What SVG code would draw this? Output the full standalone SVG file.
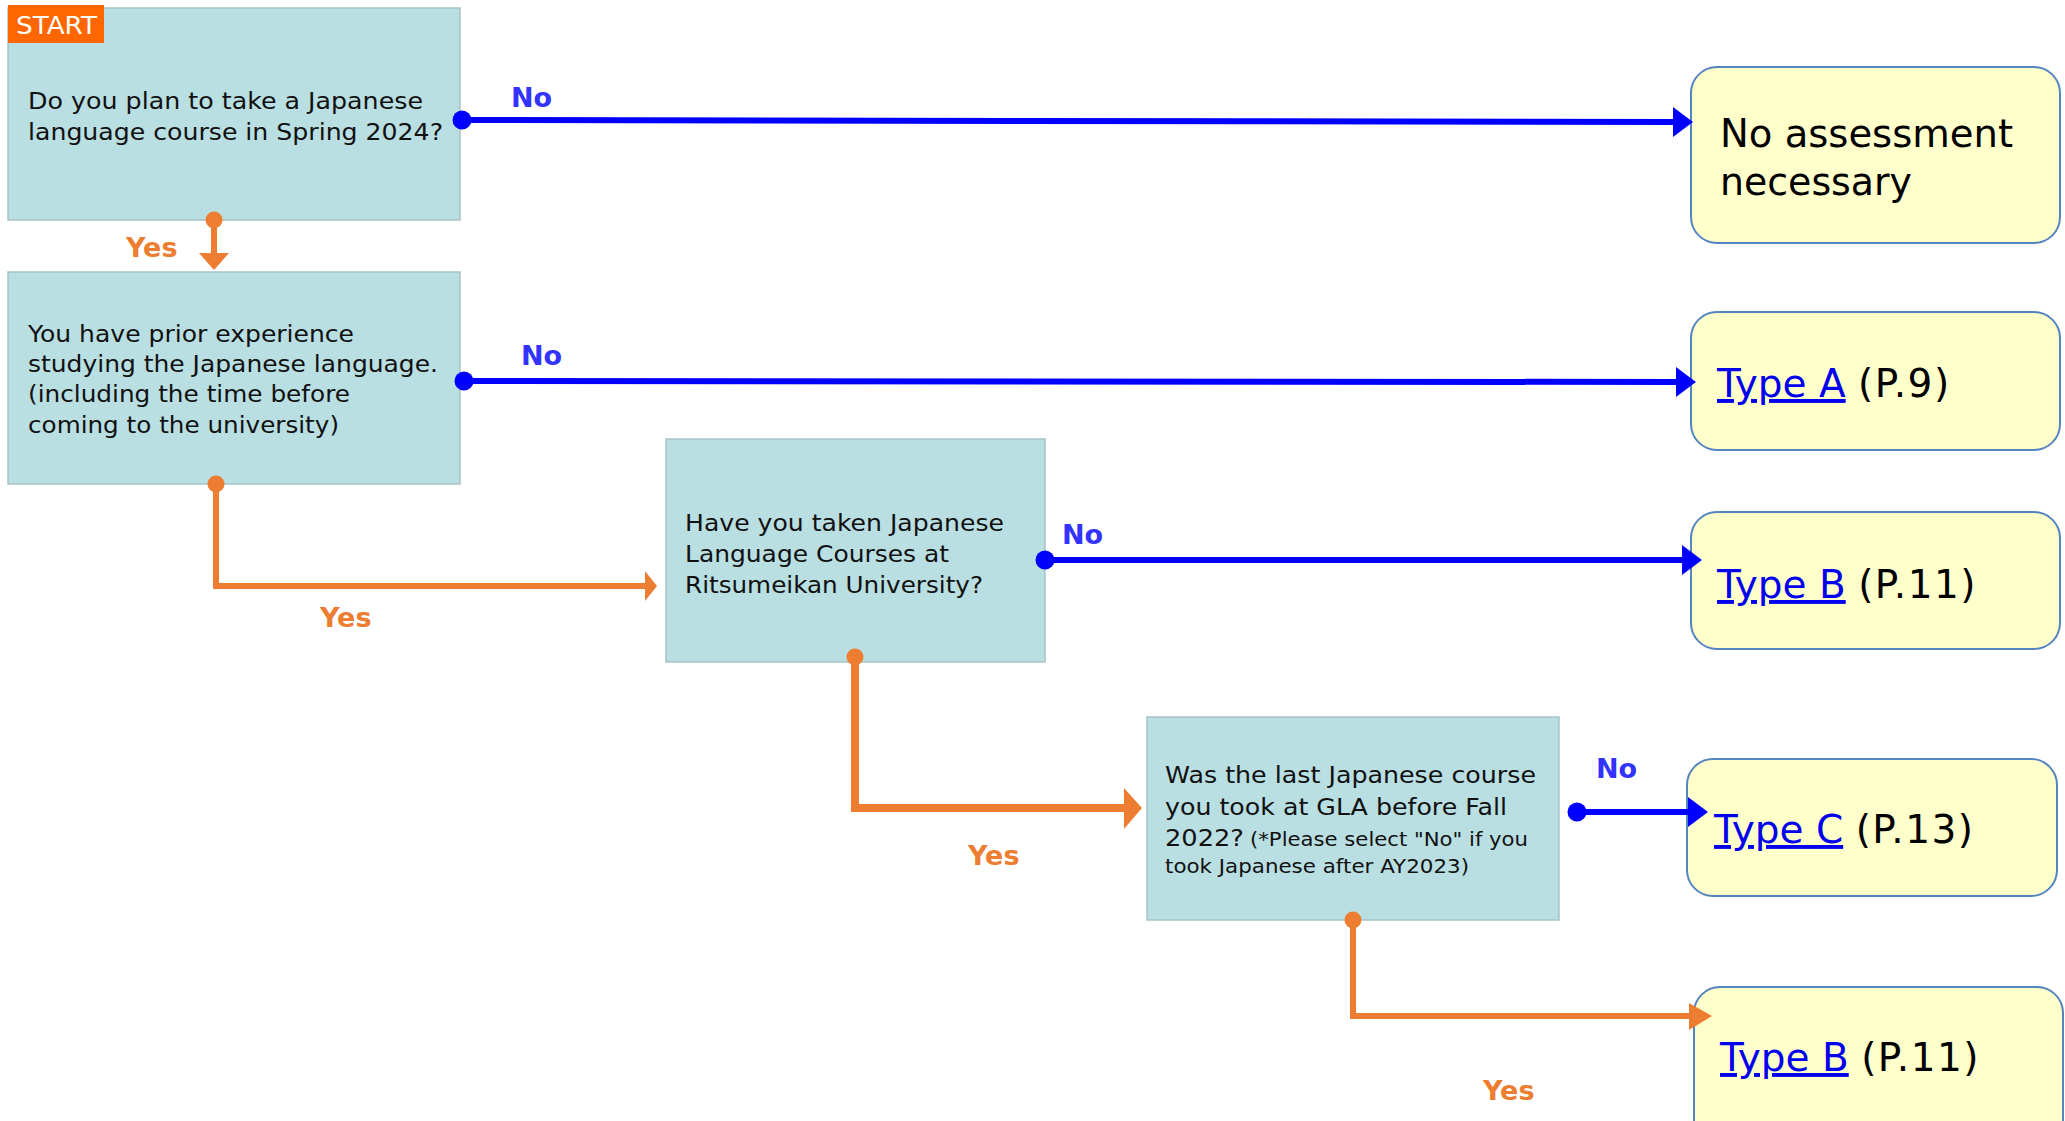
<svg xmlns="http://www.w3.org/2000/svg" width="2065" height="1121" viewBox="0 0 2065 1121">
<style>
.q{fill:#B9DFE3;stroke:#A8C3C7;stroke-width:1.5}
.t{fill:#FFFFCC;stroke:#5585C0;stroke-width:2}
.bt{font-family:"DejaVu Sans","Noto Sans",sans-serif;font-size:23px;fill:#111}
.sm{font-size:19.5px}
.tt{font-family:"DejaVu Sans","Noto Sans",sans-serif;font-size:39px;fill:#000}
.pg{letter-spacing:1.5px}
.lk{fill:#0000EE;text-decoration:underline}
.no{font-family:"DejaVu Sans","Noto Sans",sans-serif;font-size:27px;font-weight:bold;fill:#3333FF}
.yes{font-family:"DejaVu Sans","Noto Sans",sans-serif;font-size:27px;font-weight:bold;fill:#ED7D31}
.bl{stroke:#0000FF;stroke-width:6;fill:none}
.or{stroke:#ED7D31;stroke-width:6;fill:none}
.oh{fill:#ED7D31}
</style>
<defs>
<marker id="bdot" markerUnits="userSpaceOnUse" markerWidth="20" markerHeight="20" refX="10" refY="10" viewBox="0 0 20 20"><circle cx="10" cy="10" r="9.5" fill="#0000FF"/></marker>
<marker id="odot" markerUnits="userSpaceOnUse" markerWidth="18" markerHeight="18" refX="9" refY="9" viewBox="0 0 18 18"><circle cx="9" cy="9" r="8.5" fill="#ED7D31"/></marker>
<marker id="barr" markerUnits="userSpaceOnUse" markerWidth="20" markerHeight="30" refX="0" refY="15" viewBox="0 0 20 30" orient="auto"><path d="M0,0 L20,15 L0,30 Z" fill="#0000FF"/></marker>
</defs>

<g id="q1">
  <rect class="q" x="8" y="8" width="452" height="212"/>
  <rect x="8" y="5" width="96" height="38" fill="#FF6600"/>
  <text x="16" y="34" font-family="DejaVu Sans, Noto Sans, sans-serif" font-size="24" fill="#FFFFFF" textLength="81" lengthAdjust="spacingAndGlyphs">START</text>
  <text class="bt" x="28" y="109" textLength="395" lengthAdjust="spacingAndGlyphs">Do you plan to take a Japanese</text>
  <text class="bt" x="28" y="140" textLength="415" lengthAdjust="spacingAndGlyphs">language course in Spring 2024?</text>
</g>

<g id="q2">
  <rect class="q" x="8" y="272" width="452" height="212"/>
  <text class="bt" x="28" y="342" textLength="326" lengthAdjust="spacingAndGlyphs">You have prior experience</text>
  <text class="bt" x="28" y="372" textLength="410" lengthAdjust="spacingAndGlyphs">studying the Japanese language.</text>
  <text class="bt" x="28" y="402" textLength="322" lengthAdjust="spacingAndGlyphs">(including the time before</text>
  <text class="bt" x="28" y="433" textLength="311" lengthAdjust="spacingAndGlyphs">coming to the university)</text>
</g>

<g id="q3">
  <rect class="q" x="666" y="439" width="379" height="223"/>
  <text class="bt" x="685" y="531" textLength="319" lengthAdjust="spacingAndGlyphs">Have you taken Japanese</text>
  <text class="bt" x="685" y="562" textLength="264" lengthAdjust="spacingAndGlyphs">Language Courses at</text>
  <text class="bt" x="685" y="593" textLength="298" lengthAdjust="spacingAndGlyphs">Ritsumeikan University?</text>
</g>

<g id="q4">
  <rect class="q" x="1147" y="717" width="412" height="203"/>
  <text class="bt" x="1165" y="783" textLength="371" lengthAdjust="spacingAndGlyphs">Was the last Japanese course</text>
  <text class="bt" x="1165" y="815" textLength="342" lengthAdjust="spacingAndGlyphs">you took at GLA before Fall</text>
  <text class="bt" x="1165" y="846" textLength="79" lengthAdjust="spacingAndGlyphs">2022?</text>
  <text class="bt sm" x="1250" y="846" textLength="278" lengthAdjust="spacingAndGlyphs">(*Please select "No" if you</text>
  <text class="bt sm" x="1165" y="873" textLength="304" lengthAdjust="spacingAndGlyphs">took Japanese after AY2023)</text>
</g>

<g id="r1">
  <rect class="t" x="1691" y="67" width="369" height="176" rx="26"/>
  <text class="tt" x="1720" y="147" textLength="293" lengthAdjust="spacingAndGlyphs">No assessment</text>
  <text class="tt" x="1720" y="195" textLength="192" lengthAdjust="spacingAndGlyphs">necessary</text>
</g>

<g id="r2">
  <rect class="t" x="1691" y="312" width="369" height="138" rx="26"/>
  <text class="tt" x="1717" y="397"><tspan class="lk">Type A</tspan> <tspan class="pg">(P.9)</tspan></text>
</g>

<g id="r3">
  <rect class="t" x="1691" y="512" width="369" height="137" rx="26"/>
  <text class="tt" x="1717" y="598"><tspan class="lk">Type B</tspan> <tspan class="pg">(P.11)</tspan></text>
</g>

<g id="r4">
  <rect class="t" x="1687" y="759" width="370" height="137" rx="26"/>
  <text class="tt" x="1714" y="843"><tspan class="lk">Type C</tspan> <tspan class="pg">(P.13)</tspan></text>
</g>

<g id="r5">
  <rect class="t" x="1694" y="987" width="369" height="160" rx="26"/>
  <text class="tt" x="1720" y="1071"><tspan class="lk">Type B</tspan> <tspan class="pg">(P.11)</tspan></text>
</g>

<g id="connectors">
  <path class="bl" d="M462,120 L1673,122" marker-start="url(#bdot)" marker-end="url(#barr)"/>
  <path class="bl" d="M464,381 L1676,382" marker-start="url(#bdot)" marker-end="url(#barr)"/>
  <path class="bl" d="M1045,560 L1682,560" marker-start="url(#bdot)" marker-end="url(#barr)"/>
  <path class="bl" d="M1577,812 L1688,812" marker-start="url(#bdot)" marker-end="url(#barr)"/>

  <path class="or" d="M214,220 L214,254" marker-start="url(#odot)"/>
  <polygon class="oh" points="199,253 229,253 214,270"/>
  <path class="or" d="M216,484 L216,586 L646,586" marker-start="url(#odot)"/>
  <polygon class="oh" points="645,571 657,586 645,601"/>
  <path class="or" d="M855,657 L855,808 L1126,808" style="stroke-width:8" marker-start="url(#odot)"/>
  <polygon class="oh" points="1124,788 1142,808 1124,829"/>
  <path class="or" d="M1353,920 L1353,1016 L1690,1016" marker-start="url(#odot)"/>
  <polygon class="oh" points="1689,1003 1712,1016 1689,1030"/>

  <text class="no" x="511" y="107">No</text>
  <text class="no" x="521" y="365">No</text>
  <text class="no" x="1062" y="544">No</text>
  <text class="no" x="1596" y="778">No</text>
  <text class="yes" x="126" y="257">Yes</text>
  <text class="yes" x="320" y="627">Yes</text>
  <text class="yes" x="968" y="865">Yes</text>
  <text class="yes" x="1483" y="1100">Yes</text>
</g>
</svg>
